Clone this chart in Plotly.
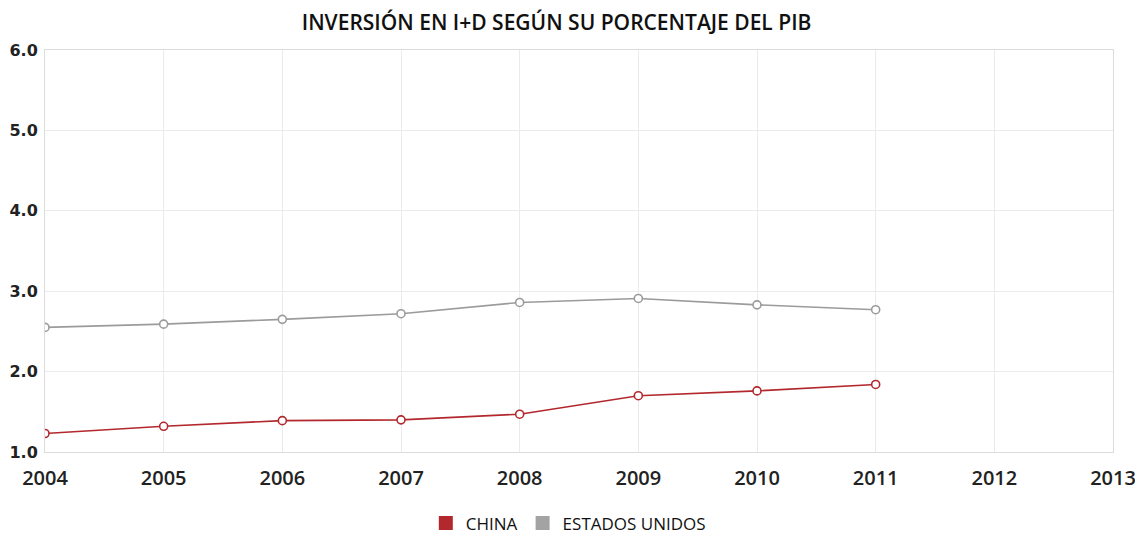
import plotly.graph_objects as go

years = [2004, 2005, 2006, 2007, 2008, 2009, 2010, 2011]
china = [1.23, 1.32, 1.39, 1.40, 1.47, 1.70, 1.76, 1.84]
usa = [2.55, 2.59, 2.65, 2.72, 2.86, 2.91, 2.83, 2.77]
x_ticks = list(range(2004, 2014))
y_ticks = [1, 2, 3, 4, 5, 6]

red = "#b3282d"
grey = "#9b9b9b"

fig = go.Figure()
fig.add_trace(go.Scatter(x=years, y=usa, mode="lines+markers", name="ESTADOS UNIDOS",
                         line=dict(color=grey, width=1.6),
                         marker=dict(symbol="circle", size=8, color="white",
                                     line=dict(color=grey, width=1.6)),
                         showlegend=False))
fig.add_trace(go.Scatter(x=years, y=china, mode="lines+markers", name="CHINA",
                         line=dict(color=red, width=1.6),
                         marker=dict(symbol="circle", size=8, color="white",
                                     line=dict(color=red, width=1.6)),
                         showlegend=False))
# legend entries
fig.add_trace(go.Scatter(x=[None], y=[None], mode="markers", name="CHINA",
                         marker=dict(symbol="square", size=16, color=red,
                                     line=dict(color=red, width=1))))
fig.add_trace(go.Scatter(x=[None], y=[None], mode="markers", name="ESTADOS UNIDOS",
                         marker=dict(symbol="square", size=16, color="#a3a3a3",
                                     line=dict(color="#a3a3a3", width=1))))

# page body has an 8px margin, so the figure is drawn 8px smaller and offset
fig.update_layout(
    width=1135, height=526,
    margin=dict(l=37, r=30, t=42, b=82, autoexpand=False),
    paper_bgcolor="white", plot_bgcolor="white",
    title=dict(text="INVERSIÓN EN I+D SEGÚN SU PORCENTAJE DEL PIB",
               x=0.479, xanchor="center", xref="paper", y=0.9715, yanchor="middle",
               font=dict(family="Open Sans", size=21, color="#111", weight=600)),
    font=dict(family="Open Sans", color="#222"),
    legend=dict(orientation="h", x=0.49, xanchor="center", y=-0.178, yanchor="middle",
                font=dict(family="Open Sans", size=17, color="#111", weight=500),
                itemsizing="constant", traceorder="normal"),
    xaxis=dict(range=[2004, 2013], tickvals=x_ticks, ticktext=[str(v) for v in x_ticks],
               automargin=False,
               showgrid=True, gridcolor="#ebebeb", gridwidth=1,
               showline=True, linecolor="#dcdcdc", linewidth=1, mirror=True,
               zeroline=False, ticks="", ticklabelstandoff=8,
               tickfont=dict(family="Open Sans", size=20, color="#222", weight=600)),
    yaxis=dict(range=[1, 6], tickvals=y_ticks, ticktext=[f"{v:.1f}" for v in y_ticks],
               automargin=False,
               showgrid=True, gridcolor="#ebebeb", gridwidth=1,
               showline=True, linecolor="#dcdcdc", linewidth=1, mirror=True,
               zeroline=False, ticks="", ticklabelstandoff=3,
               tickfont=dict(family="DejaVu Sans", size=16, color="#222", weight="bold")),
)

fig.write_html("out.html")
